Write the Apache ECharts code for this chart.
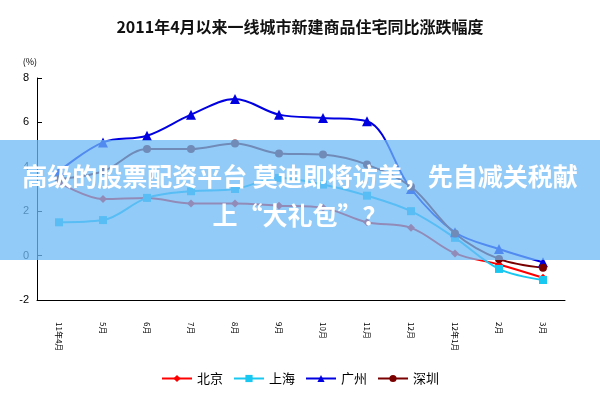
<!DOCTYPE html><html><head><meta charset="utf-8"><script src="https://cdn.jsdelivr.net/npm/echarts@6/dist/echarts.min.js"></script></head><body style="margin:0"><div id="c" style="width:600px;height:400px"></div><script>
const categories=['11年4月','5月','6月','7月','8月','9月','10月','11月','12月','12年1月','2月','3月'];
const beijing=[3.3,2.55,2.6,2.35,2.35,2.25,2.15,1.5,1.25,0.1,-0.4,-1.0];
const shanghai=[1.5,1.6,2.6,2.9,3.0,3.5,3.2,2.7,2.0,0.8,-0.6,-1.1];
const guangzhou=[3.8,5.1,5.4,6.35,7.05,6.35,6.2,6.05,3.0,1.05,0.3,-0.3];
const shenzhen=[3.45,3.8,4.8,4.8,5.05,4.6,4.55,4.1,3.1,1.0,-0.15,-0.55];
const yTicks=[-2,0,2,4,6,8];
const banner=['高级的股票配资平台 莫迪即将访美，先自减关税献','上“大礼包”？'];
const ff='"Noto Sans CJK SC", sans-serif';
function s(name,data,color,symbol,size){return {name,type:'line',data,smooth:0.35,symbol,symbolSize:size,lineStyle:{color,width:2},itemStyle:{color}};}
const ch=echarts.init(document.getElementById('c'));
ch.setOption({
animation:false,
title:{text:'2011年4月以来一线城市新建商品住宅同比涨跌幅度',left:'center',top:14,textStyle:{fontFamily:ff,fontSize:16,fontWeight:'bold',color:'#111'}},
grid:{left:37,right:35,top:78,bottom:100},
xAxis:{type:'category',data:categories,boundaryGap:true,axisLine:{onZero:false,lineStyle:{color:'#000'}},axisTick:{inside:true,lineStyle:{color:'#000'}},axisLabel:{rotate:-90,fontSize:8,fontFamily:ff,color:'#000',interval:0,margin:22}},
yAxis:{type:'value',min:-2,max:8,interval:2,name:'(%)',nameLocation:'end',nameGap:12,nameTextStyle:{fontFamily:ff,fontSize:9,color:'#000',align:'right'},axisLine:{show:true,lineStyle:{color:'#000'}},axisTick:{show:true,inside:true},splitLine:{show:false},axisLabel:{fontSize:11,color:'#000'}},
legend:{bottom:10,itemWidth:30,itemHeight:9,itemGap:10,textStyle:{fontFamily:ff,fontSize:13,color:'#000'},data:['北京','上海','广州','深圳']},
series:[
s('北京',beijing,'#ff0000','diamond',8),
s('上海',shanghai,'#18c8f0','rect',8),
s('广州',guangzhou,'#0000e0','triangle',10),
s('深圳',shenzhen,'#7a0000','circle',8)],
graphic:[{type:'rect',shape:{x:0,y:140,width:600,height:120},style:{fill:'rgba(110,185,245,0.75)'},z:100},
{type:'text',left:'center',top:164,style:{text:banner[0],fill:'#fff',font:'bold 25px '+ff},z:101},
{type:'text',left:'center',top:203,style:{text:banner[1],fill:'#fff',font:'bold 25px '+ff},z:101}]
});
</script></body></html>
